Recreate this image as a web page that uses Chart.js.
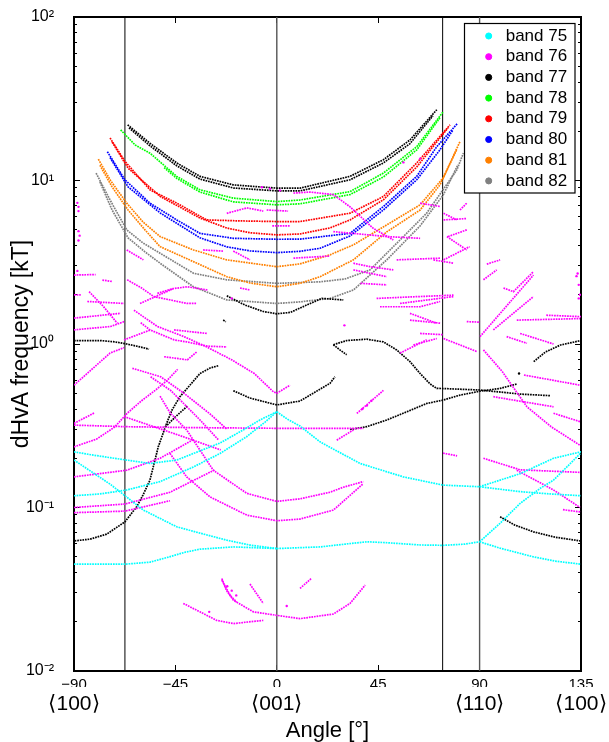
<!DOCTYPE html>
<html>
<head>
<meta charset="utf-8">
<script src="https://cdn.jsdelivr.net/npm/chart.js@4"></script>
<style>
html,body{margin:0;padding:0;background:#fff;}
canvas{display:block;}
</style>
</head>
<body>
<canvas id="c" width="609" height="742"></canvas>
<script>
// ---------- axis / tick data ----------
const xTickValues = [-90, -45, 0, 45, 90, 135];
const xTickLabels = ['\u221290', '\u221245', '0', '45', '90', '135'];
const dirTickValues = [-90, 0, 90, 135];
const dirTickLabels = ['\u27E8100\u27E9', '\u27E8001\u27E9', '\u27E8110\u27E9', '\u27E8100\u27E9'];
const yMajorTicks = [0.01, 0.1, 1, 10, 100];
const yMajorLabels = ['10\u207B\u00B2', '10\u207B\u00B9', '10\u2070', '10\u00B9', '10\u00B2'];
const yMinorTicks = [0.02,0.03,0.04,0.05,0.06,0.07,0.08,0.09,
                     0.2,0.3,0.4,0.5,0.6,0.7,0.8,0.9,
                     2,3,4,5,6,7,8,9,
                     20,30,40,50,60,70,80,90];
const guideAngles = [-67.4, 0, 73.6, 90];
const bandNames = ['band 75','band 76','band 77','band 78','band 79','band 80','band 81','band 82'];

// ---------- series: [angle (deg), dHvA frequency (kT)] ----------
const band75 = [
 [[-90,0.219],[-81.4,0.209],[-66.6,0.195],[-56.3,0.186],[-44.4,0.195],[-37,0.214],[-25.2,0.248],[-14.9,0.298],[-7.5,0.343],[0,0.385]],
 [[-90,0.118],[-78.5,0.121],[-66.6,0.128],[-51.8,0.144],[-37,0.177],[-25.2,0.214],[-13.4,0.271],[-5.2,0.333],[0,0.385]],
 [[-90,0.195],[-74,0.139],[-59.2,0.0964],[-44.4,0.0762],[-34.1,0.0697],[-22.2,0.0631],[-11.9,0.0589],[0,0.0561]],
 [[-90,0.045],[-67.4,0.045],[-56.3,0.0463],[-48.8,0.0494],[-40.6,0.0533],[-34.1,0.0556],[-19.3,0.0574],[0,0.0561]],
 [[0,0.0561],[10.3,0.0568],[19.2,0.0574],[30.3,0.0597],[39.9,0.0617],[48,0.061],[63.6,0.059],[73.9,0.0587],[83.5,0.0597],[90,0.0617]],
 [[90,0.0617],[99.1,0.0564],[113.9,0.0499],[123.5,0.047],[135,0.045]],
 [[90,0.0617],[99.1,0.0801],[108,0.106],[116.9,0.131],[122.8,0.147],[130.3,0.186],[135,0.216]],
 [[0,0.385],[5,0.345],[10.3,0.315],[19.2,0.252],[36.9,0.186],[56.1,0.154],[73.8,0.137],[90,0.134]],
 [[90,0.134],[108,0.161],[122.8,0.2],[135,0.219]],
 [[90,0.134],[108,0.125],[121.3,0.121],[135,0.118]]
];

const band76 = [
 [[-90,0.319],[-66.6,0.312],[-37,0.308],[0,0.305],[23.6,0.305],[38.4,0.305]],
 [[-90,0.235],[-80,0.262],[-72,0.31],[-66.4,0.377],[-60,0.45],[-54,0.52],[-48.6,0.6],[-44,0.7]],
 [[-51.8,0.48],[-47.4,0.38],[-40,0.298],[-28.2,0.169],[-13.3,0.122],[0,0.109],[10.3,0.113],[23.6,0.124],[29.5,0.133],[38.4,0.144]],
 [[-47.4,0.214],[-40,0.154],[-29.6,0.116],[-13.3,0.0898],[0,0.083],[10.3,0.085],[25.1,0.0964],[38.4,0.14]],
 [[-63.4,1.61],[-53,1.28],[-41.2,1.11],[-31.1,0.96],[-20,0.8],[-10,0.66],[-1.5,0.51],[0,0.5],[5.9,0.56]],
 [[-60.4,1.35],[-56.3,1.22],[-45.6,1.06],[-40,1.03],[-30.8,0.97],[-22.2,0.96]],
 [[-66.4,2.47],[-60,2.2],[-54.6,1.95],[-39.8,1.77],[-35.5,1.77]],
 [[-53,2.04],[-46,2.18],[-39.7,2.24],[-30.8,2.14]],
 [[-60.7,1.77],[-45.9,2.18]],
 [[-90,2.64],[-80.4,2.66]],
 [[-77.4,2.46],[-73,2.41]],
 [[-83.3,2.09],[-77,1.7],[-70.8,1.34]],
 [[-84.1,1.82],[-67.8,1.77]],
 [[-90,1.44],[-69.3,1.54]],
 [[-90,1.22],[-73.7,1.28],[-67.8,1.37]],
 [[-90,2.0],[-87,2.0]],
 [[-90,0.56],[-82.6,0.69],[-74,0.88],[-67.8,0.95]],
 [[-64.1,0.71],[-51.5,0.63],[-41.2,0.5],[-29.3,0.37],[-22,0.3]],
 [[-56,0.63],[-47.1,0.52],[-33.8,0.34],[-26,0.26]],
 [[-50,0.836],[-39.7,0.8],[-35.3,0.9]],
 [[-67.8,1.06],[-56,1.22]],
 [[-90,0.327],[-81.1,0.378]],
 [[-67.8,0.36],[-41.2,0.27],[-24.9,0.225]],
 [[-90,0.1],[-67.4,0.105],[-47.4,0.124],[-27.5,0.17]],
 [[-90,0.093],[-67.4,0.095],[-47.4,0.11]],
 [[-90,0.154],[-66.6,0.169],[-51.8,0.2],[-37.1,0.26]],
 [[-22.2,6.3],[-13.3,6.8],[-6,6.5]],
 [[7.4,8.37],[14.7,8.5],[25.1,8.2],[32.5,6.9],[42.8,5.1],[51.7,4.33]],
 [[7.4,3.35],[23.6,3.45]],
 [[-19.3,3.7],[-11.9,3.27]],
 [[-32.7,3.76],[-23.8,3.7]],
 [[-66.6,3.76],[-59.2,3.27]],
 [[-16.3,2.2],[-11.9,2.14]],
 [[-45.6,1.22],[-31.1,1.16]],
 [[-4.5,6.6],[5,6.5]],
 [[-2,5.28],[6,5.28]],
 [[25.1,4.87],[48.8,4.54],[63.6,4.43]],
 [[34,3.12],[41.4,2.97],[51.7,2.84]],
 [[34,2.84],[48.8,2.58]],
 [[37.2,2.35],[48.8,2.3]],
 [[44.3,1.9],[59.1,1.94],[78.4,1.99]],
 [[45.8,1.69],[63.6,1.69],[72.5,1.82]],
 [[59.1,1.40],[72.5,1.34]],
 [[60.6,0.986],[71,1.08]],
 [[53.2,3.27],[72.5,3.35]],
 [[69.5,3.27],[78.4,3.12]],
 [[74,3.27],[85.6,3.94]],
 [[74,5.74],[84.3,5.85]],
 [[76,4.54],[84.3,4.99]],
 [[63.6,7.27],[72.5,6.93]],
 [[74,6.3],[79.9,5.74]],
 [[75.5,4.54],[84.3,3.76]],
 [[81.3,6.6],[84.3,7.27]],
 [[54.7,1.77],[78.4,1.95]],
 [[59.1,1.54],[71,1.34]],
 [[63.6,1.16],[73.9,1.14]],
 [[54.7,0.88],[66.5,1.06]],
 [[84.3,1.37],[90.2,1.36]],
 [[93.2,3.08],[99.1,3.27]],
 [[91.7,2.47],[97.6,2.84]],
 [[100.6,2.2],[105,2.09],[113.9,2.77]],
 [[96.1,1.22],[113.9,1.95]],
 [[106.5,1.40],[134.6,1.43]],
 [[102,1.11],[111,1.01]],
 [[74,1.08],[88.7,0.9]],
 [[91.7,0.92],[100,0.68],[111,0.413],[122,0.31],[134.6,0.24]],
 [[96.1,0.476],[122.8,0.413]],
 [[122.8,0.377],[134.6,0.335]],
 [[91.7,0.2],[108,0.17],[134.6,0.164]],
 [[106.5,0.169],[122.8,0.128],[134.6,0.1]],
 [[127,0.097],[134.6,0.094]],
 [[109.7,0.646],[134.6,0.56]],
 [[108,1.16],[122.8,1.0]],
 [[26.6,0.258],[34,0.298]],
 [[35.5,0.376],[47.3,0.52]],
 [[73.8,0.215],[80,0.207]],
 [[90.2,1.11],[113.9,2.64]],
 [[119.6,1.5],[135,1.47]],
 [[-41.5,0.0259],[-34.1,0.023],[-26.7,0.0204],[-19.3,0.0195],[-6,0.0204]],
 [[-24.4,0.0368],[-22.4,0.0312],[-19.3,0.0271],[-10.4,0.023],[0,0.0219],[10.3,0.0209],[25.1,0.0223],[32.5,0.0259],[39.2,0.0335]],
 [[-24.4,0.036],[-20.7,0.029],[-17.8,0.0264]],
 [[-11.9,0.034],[-6,0.0259]],
 [[10.3,0.032],[15.5,0.037]]
];
const band76Dots = [
 [-88,6.9],[-88,6.5],[-88.5,7.3],[-88,4.9],[-87.5,4.6],[-88,4.3],[-88.5,2.8],
 [-6.6,9.1],[-3,8.9],[1.4,8.7],[63.6,13.6],[56.2,12.9],
 [133,2.6],[134,2.3],[134.5,2.0],[133.5,2.7],[134,1.9],
 [-30,0.023],[-22,0.033],[-20,0.031],[-18,0.029],[4.4,0.025],
 [40,0.42],[42,0.45],[38,0.4],[-20,1.9],[30,1.3]
];
const band77 = [
 [[-66.2,21.9],[-56.3,16.9],[-44.4,12.8],[-34.1,10.6],[-19.3,9.4],[0,8.98],[10.3,8.98],[32.5,10.6],[47.3,13.4],[59.1,17.7],[71,27.1]],
 [[-65.6,21.0],[-56.3,16.3],[-44.4,12.3],[-34.1,10.2],[-19.3,9.0],[0,8.64],[10.3,8.64],[32.5,10.1],[47.3,12.8],[59.1,16.8],[69.3,24.9]],
 [[-22.2,1.97],[-14.1,1.73],[-6,1.58],[0,1.53],[6,1.56],[14,1.75],[20,1.9],[29.5,1.86]],
 [[-23.8,1.4],[-22.6,1.37]],
 [[-90,1.05],[-78.5,1.05],[-71.8,1.03],[-66.6,1.0],[-60.7,0.96],[-56.7,0.93]],
 [[25.1,0.99],[31,1.05],[39.9,1.07],[47.3,1.03],[53.2,0.92],[59.1,0.78],[63.6,0.66],[68,0.57],[71,0.535],[73.9,0.534],[90.2,0.523],[108,0.494],[121.3,0.483]],
 [[25.1,0.99],[28,0.92],[31,0.86]],
 [[32.5,0.30],[39.9,0.312],[48.8,0.343],[57.7,0.385],[66.6,0.433],[73.9,0.454],[81.3,0.487],[90.2,0.515],[99.1,0.535],[106.5,0.569]],
 [[-19.3,0.518],[-11.9,0.467],[0,0.424],[10.3,0.448],[23.6,0.575],[25.8,0.63]],
 [[-26,0.736],[-29.6,0.713],[-34.1,0.66],[-38.5,0.561],[-43,0.476],[-46.5,0.395],[-48.9,0.327],[-52.6,0.235],[-56.3,0.147],[-59.4,0.119],[-62.2,0.101],[-67.4,0.0817],[-75.5,0.0687],[-82.9,0.064],[-90,0.0625]],
 [[-39.7,0.417],[-44.9,0.359],[-49.4,0.312]],
 [[99.1,0.0877],[105.7,0.078],[113.9,0.071],[123.5,0.0658],[134.6,0.0625]],
 [[114,0.78],[119.2,0.893],[125.9,0.986],[135,1.05]]
];
const band77Dots = [[107.5,0.66]];
const band78 = [
 [[-69.3,20.4],[-62.9,16.5],[-56.3,14.7],[-44.4,10.6],[-34.1,8.77],[-19.3,7.8],[0,7.43],[10.3,7.6],[32.5,8.55],[47.3,11.1],[62.1,16.1],[73.9,26.4]],
 [[-50,12.0],[-44.4,10.3],[-34.1,8.5],[-19.3,7.4],[0,7.1],[10.3,7.2],[32.5,8.2],[47.3,10.5],[62.1,15.4],[72.4,24.2]]
];
const band79 = [
 [[-74,18.2],[-67.4,13.1],[-56.3,8.77],[-44.4,7.27],[-31.1,5.74],[-16.3,5.66],[0,5.61],[10.3,5.61],[32.5,6.31],[47.3,7.98],[62.1,12.8],[76.9,21.9]],
 [[-73.1,17.2],[-66,11.9],[-51.8,8.0],[-34.1,5.89],[-22.2,5.12],[-11.9,4.79],[0,4.65],[10.3,4.71],[23.6,5.13],[32.5,5.74],[47.3,7.62],[62.1,12.1],[76,21.0]]
];
const band80 = [
 [[-75.2,15.0],[-67.4,10.1],[-56.3,7.27],[-44.4,5.74],[-34.1,4.75],[-19.3,4.43],[0,4.37],[10.3,4.38],[32.5,4.75],[47.3,6.93],[62.1,10.6],[71,16.1],[80,22.2]],
 [[-74,13.8],[-66,9.14],[-51.8,6.34],[-34.1,4.46],[-22.2,3.93],[-11.9,3.71],[0,3.62],[10.3,3.69],[19.2,3.85],[32.5,4.58],[47.3,6.6],[62.1,10.1],[72.4,15.4],[78.2,20.4]]
];
const band81 = [
 [[-79.2,13.5],[-74,10.1],[-66.6,7.27],[-59.4,5.58],[-51.8,4.54],[-37,3.76],[-22.2,3.27],[0,2.97],[10.3,3.09],[23.6,3.51],[34,4.04],[48.8,5.35],[63.6,7.1],[73.9,10.4],[81.3,17.3]],
 [[-78.5,12.4],[-73.1,9.14],[-66,6.6],[-58.5,4.99],[-51.8,3.94],[-37,3.19],[-22.2,2.58],[-11.9,2.36],[0,2.24],[10.3,2.35],[19.2,2.58],[34,3.27],[48.8,4.85],[63.6,6.6],[72.4,9.4],[79.8,15.4]]
];
const band82 = [
 [[-80.2,11.1],[-74,7.6],[-66.6,4.99],[-59.4,4.15],[-51.8,3.59],[-37,2.71],[-22.2,2.47],[0,2.35],[19.2,2.4],[30.3,2.5],[41.4,2.84],[56.2,4.54],[66.5,6.31],[79.9,11.6],[82.8,14.7]],
 [[-78.5,9.8],[-73.1,6.6],[-66,4.46],[-58.5,3.66],[-51.8,3.12],[-37,2.24],[-22.2,1.86],[0,1.77],[10.3,1.81],[23.6,1.9],[34,2.14],[48.8,3.27],[63.6,5.28],[73.9,8.17],[80.4,12.5]]
];

// ---------- styles ----------
const bandColors = ['#00FFFF','#FF00FF','#000000','#00FF00','#FF0000','#0000FF','#FF8000','#808080'];
const bandCurves = [band75, band76, band77, band78, band79, band80, band81, band82];
const bandDots = [[], band76Dots, band77Dots, [], [], [], [], []];
const guideColors = ['#000000', '#555555', '#000000', '#555555'];
const FONT = "'Liberation Sans', Arial, Helvetica, sans-serif";

Chart.defaults.font.family = FONT;
Chart.defaults.color = '#000';

const datasets = [];
bandNames.forEach((name, i) => {
  datasets.push({
    label: name, data: [], order: 0,
    backgroundColor: bandColors[i], borderColor: bandColors[i],
    pointBackgroundColor: bandColors[i], pointBorderColor: bandColors[i],
    pointStyle: 'circle', showLine: false
  });
});
bandCurves.forEach((curves, i) => {
  curves.forEach(seg => {
    datasets.push({
      data: seg, order: 1, showLine: true, pointRadius: 0, pointHoverRadius: 0,
      borderColor: bandColors[i], backgroundColor: bandColors[i],
      borderWidth: 1.7, borderDash: [1.7, 0.9], fill: false, tension: 0
    });
  });
  if (bandDots[i].length) {
    datasets.push({
      data: bandDots[i], order: 1, showLine: false, pointRadius: 1.2, pointHoverRadius: 1.2,
      pointStyle: 'circle', borderWidth: 0,
      backgroundColor: bandColors[i], pointBackgroundColor: bandColors[i], borderColor: bandColors[i]
    });
  }
});
guideAngles.forEach((a, i) => {
  datasets.push({
    data: [[a, yMajorTicks[0]], [a, yMajorTicks[yMajorTicks.length - 1]]],
    order: 10, showLine: true, pointRadius: 0, pointHoverRadius: 0,
    borderColor: guideColors[i], borderWidth: i % 2 ? 1.4 : 1, fill: false
  });
});

const setTicks = (vals) => (scale) => { scale.ticks = vals.map(v => ({ value: v })); };
const fixW = (w) => (scale) => { scale.width = w; };
const fixH = (h) => (scale) => { scale.height = h; };
const tickGrid = (len) => ({ display: true, drawOnChartArea: false, drawTicks: true, tickLength: len, tickColor: '#000', tickWidth: 1 });

const legendBoxPlugin = {
  id: 'legendBox',
  afterLayout(chart) {
    const lg = chart.legend;
    if (!lg) return;
    lg.left = 476.5; lg.top = 23.8; lg.right = 575; lg.bottom = 200;
    lg.width = lg.right - lg.left; lg.height = lg.bottom - lg.top;
  },
  afterDatasetsDraw(chart) {
    const c = chart.ctx;
    c.save();
    c.fillStyle = '#ffffff';
    c.fillRect(464.5, 23.5, 110.5, 169.5);
    c.strokeStyle = '#000000';
    c.lineWidth = 1.2;
    c.strokeRect(464.5, 23.5, 110.5, 169.5);
    c.restore();
    if (chart.legend) chart.legend.draw();
  }
};

new Chart(document.getElementById('c'), {
  type: 'scatter',
  data: { datasets },
  options: {
    responsive: false,
    animation: false,
    devicePixelRatio: 1,
    layout: { padding: 0, autoPadding: false },
    events: [],
    plugins: {
      tooltip: { enabled: false },
      legend: {
        position: 'chartArea',
        align: 'start',
        labels: {
          filter: (item) => !!item.text,
          usePointStyle: true,
          pointStyle: 'circle',
          boxHeight: 4.3,
          boxWidth: 17,
          padding: 3.7,
          color: '#000',
          font: { size: 17, family: FONT }
        }
      }
    },
    scales: {
      x: {
        type: 'linear', position: 'bottom', min: -90, max: 135, weight: 0,
        afterBuildTicks: setTicks(xTickValues),
        afterFit: fixH(16),
        ticks: {
          autoSkip: false, maxRotation: 0, padding: 11, color: '#000',
          font: { size: 15, lineHeight: 1.2 },
          callback: (v) => { const i = xTickValues.indexOf(v); return i >= 0 ? xTickLabels[i] : ''; }
        },
        grid: tickGrid(-6),
        border: { display: true, color: '#000', width: 2 }
      },
      x2: {
        type: 'linear', position: 'bottom', min: -90, max: 135, weight: 1,
        afterBuildTicks: setTicks(dirTickValues),
        afterFit: fixH(55),
        ticks: {
          autoSkip: false, maxRotation: 0, padding: -3, color: '#000',
          font: { size: 21, lineHeight: 1.2 },
          callback: (v) => { const i = dirTickValues.indexOf(v); return i >= 0 ? dirTickLabels[i] : ''; }
        },
        grid: { display: false },
        border: { display: false },
        title: { display: true, text: 'Angle [\u00B0]', color: '#000', font: { size: 22, lineHeight: 1 }, padding: { top: 0, bottom: 0 } }
      },
      xt: {
        type: 'linear', position: 'top', min: -90, max: 135,
        afterBuildTicks: setTicks(xTickValues),
        afterFit: fixH(17),
        ticks: { display: false },
        grid: tickGrid(-6),
        border: { display: true, color: '#000', width: 2 }
      },
      y: {
        type: 'logarithmic', position: 'left', min: 0.01, max: 100, weight: 0,
        afterBuildTicks: setTicks(yMajorTicks),
        afterFit: fixW(74),
        ticks: {
          autoSkip: false, padding: 12, color: '#000',
          font: { size: 16, lineHeight: 0.6 },
          callback: (v) => { const i = yMajorTicks.indexOf(v); return i >= 0 ? yMajorLabels[i] : ''; }
        },
        grid: { display: false },
        border: { display: true, color: '#000', width: 2 },
        title: { display: true, text: 'dHvA frequency [kT]', color: '#000', font: { size: 23, lineHeight: 1 }, padding: { top: 10.5, bottom: 0 } }
      },
      yMajor: {
        type: 'logarithmic', position: 'left', min: 0.01, max: 100, weight: -2,
        afterBuildTicks: setTicks(yMajorTicks),
        afterFit: fixW(0),
        ticks: { display: false },
        grid: tickGrid(-6),
        border: { display: false }
      },
      yMinor: {
        type: 'logarithmic', position: 'left', min: 0.01, max: 100, weight: -1,
        afterBuildTicks: setTicks(yMinorTicks),
        afterFit: fixW(0),
        ticks: { display: false },
        grid: tickGrid(-3),
        border: { display: false }
      },
      y2: {
        type: 'logarithmic', position: 'right', min: 0.01, max: 100, weight: 0,
        afterBuildTicks: setTicks(yMajorTicks),
        afterFit: fixW(28),
        ticks: { display: false },
        grid: tickGrid(-6),
        border: { display: true, color: '#000', width: 2 }
      },
      y2Minor: {
        type: 'logarithmic', position: 'right', min: 0.01, max: 100, weight: -1,
        afterBuildTicks: setTicks(yMinorTicks),
        afterFit: fixW(0),
        ticks: { display: false },
        grid: tickGrid(-3),
        border: { display: false }
      }
    }
  },
  plugins: [legendBoxPlugin]
});
</script>
</body>
</html>
